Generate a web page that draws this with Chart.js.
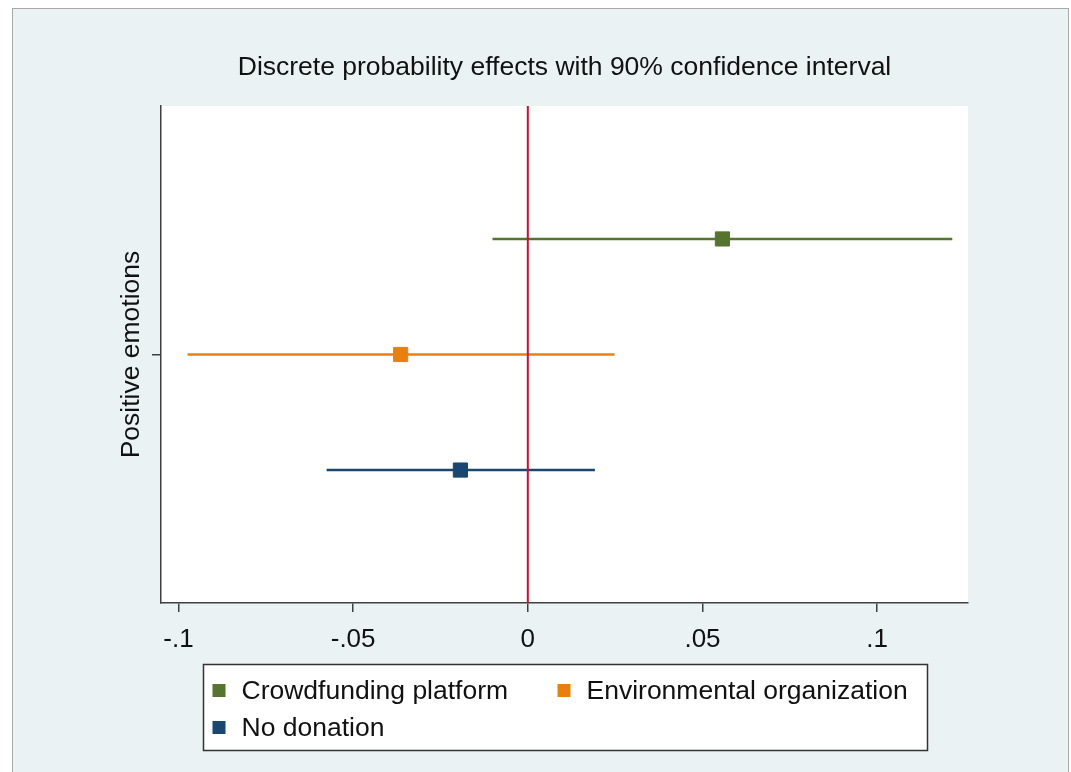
<!DOCTYPE html>
<html>
<head>
<meta charset="utf-8">
<script src="https://cdn.jsdelivr.net/npm/chart.js@4.4.0/dist/chart.umd.min.js"></script>
<style>
  html, body { margin: 0; padding: 0; background: #ffffff; }
  #wrap { width: 1071px; height: 772px; }
</style>
</head>
<body>
<div id="wrap"><canvas id="c" width="1071" height="772"></canvas></div>
<script>
// ---- data ----
const seriesLabels = ['Crowdfunding platform', 'Environmental organization', 'No donation'];
const estimates = [0.0557, -0.0364, -0.0193];
const ciLow = [-0.0101, -0.0974, -0.0576];
const ciHigh = [0.1215, 0.0248, 0.0192];
const rowPositions = [0.465, 0, -0.465];
const seriesColors = ['#55752f', '#e8800f', '#1a476f'];
const xTickValues = [-0.1, -0.05, 0, 0.05, 0.1];
const xTickLabels = ['-.1', '-.05', '0', '.05', '.1'];
const yTickValues = [0];
const yAxisLabel = 'Positive emotions';
const titleText = 'Discrete probability effects with 90% confidence interval';
const referenceValue = 0;

const FONT = '"Liberation Sans", Arial, Helvetica, sans-serif';
const FS = 26.5;

const markerSets = seriesLabels.map((lab, i) => ({
  type: 'scatter',
  label: lab,
  data: [{ x: estimates[i], y: rowPositions[i] }],
  pointStyle: 'rect',
  pointRadius: 10,
  pointHoverRadius: 10,
  backgroundColor: seriesColors[i],
  borderColor: seriesColors[i],
  borderWidth: 1,
  showLine: false
}));

const refLine = {
  type: 'scatter',
  label: '_ref',
  data: [{ x: referenceValue, y: -1 }, { x: referenceValue, y: 1 }],
  showLine: true,
  borderColor: '#c8102e',
  borderWidth: 2,
  pointRadius: 0,
  pointHoverRadius: 0
};

const ciSets = seriesLabels.map((lab, i) => ({
  type: 'scatter',
  label: '_ci' + i,
  data: [{ x: ciLow[i], y: rowPositions[i] }, { x: ciHigh[i], y: rowPositions[i] }],
  showLine: true,
  borderColor: seriesColors[i],
  borderWidth: 2.5,
  pointRadius: 0,
  pointHoverRadius: 0
}));

const bgPlugin = {
  id: 'bg',
  beforeDraw(chart) {
    const ctx = chart.ctx, a = chart.chartArea;
    ctx.save();
    ctx.fillStyle = '#ffffff';
    ctx.fillRect(0, 0, chart.width, chart.height);
    ctx.fillStyle = '#eaf2f3';
    ctx.fillRect(12, 8, 1057, 770);
    ctx.strokeStyle = '#a9a9a9';
    ctx.lineWidth = 1;
    ctx.strokeRect(12.5, 8.5, 1056, 770);
    ctx.fillStyle = '#ffffff';
    ctx.fillRect(a.left, a.top, a.right - a.left, a.bottom - a.top);
    ctx.restore();
  }
};

const legendPlugin = {
  id: 'boxLegend',
  afterDraw(chart) {
    const ctx = chart.ctx, a = chart.chartArea;
    const w = 724, h = 86;
    const cx = (a.left + a.right) / 2;
    const left = Math.round(cx - w / 2) + 0.5, top = a.bottom + 61.5;
    ctx.save();
    ctx.fillStyle = '#ffffff';
    ctx.fillRect(left, top, w, h);
    ctx.strokeStyle = '#333333';
    ctx.lineWidth = 1.5;
    ctx.strokeRect(left, top, w, h);
    ctx.font = FS + 'px ' + FONT;
    ctx.textBaseline = 'middle';
    ctx.textAlign = 'left';
    const colX = [left + 9, left + 354];
    const rowY = [top + 26, top + 63];
    markerSets.forEach((ds, i) => {
      const col = i % 2, row = Math.floor(i / 2);
      const x = colX[col], y = rowY[row];
      ctx.fillStyle = ds.backgroundColor;
      ctx.fillRect(x, y - 6.5, 13, 13);
      ctx.fillStyle = '#111111';
      ctx.fillText(ds.label, x + 29, y + 1);
    });
    ctx.restore();
  }
};

new Chart(document.getElementById('c'), {
  data: { datasets: [...markerSets, refLine, ...ciSets] },
  options: {
    responsive: false,
    animation: false,
    layout: { padding: { left: 12, right: 103, top: 8, bottom: 109 } },
    plugins: {
      legend: { display: false },
      tooltip: { enabled: false },
      title: {
        display: true,
        text: titleText,
        fullSize: false,
        color: '#111111',
        font: { family: FONT, size: FS, weight: 'normal', lineHeight: 1.2 },
        padding: { top: 44, bottom: 22.2 }
      }
    },
    scales: {
      x: {
        type: 'linear',
        min: -0.105,
        max: 0.126,
        afterBuildTicks(scale) { scale.ticks = xTickValues.map(v => ({ value: v })); },
        afterFit(scale) { scale.height = 60; },
        ticks: {
          color: '#111111',
          font: { family: FONT, size: 26 },
          padding: 12,
          maxRotation: 0,
          callback: (v, i) => xTickLabels[i]
        },
        grid: { drawOnChartArea: false, drawTicks: true, tickLength: 9, color: '#404040', lineWidth: 1.5 },
        border: { display: true, color: '#404040', width: 1.5 }
      },
      y: {
        type: 'linear',
        min: -1,
        max: 1,
        afterBuildTicks(scale) { scale.ticks = yTickValues.map(v => ({ value: v })); },
        afterFit(scale) { scale.width = 149; },
        ticks: { callback: () => '', padding: 0 },
        title: {
          display: true,
          text: yAxisLabel,
          color: '#111111',
          font: { family: FONT, size: FS, lineHeight: 1.2 },
          padding: { top: 104, bottom: 0 }
        },
        grid: { drawOnChartArea: false, drawTicks: true, tickLength: 9, color: '#404040', lineWidth: 1.5 },
        border: { display: true, color: '#404040', width: 1.5 }
      }
    }
  },
  plugins: [bgPlugin, legendPlugin]
});
</script>
</body>
</html>
